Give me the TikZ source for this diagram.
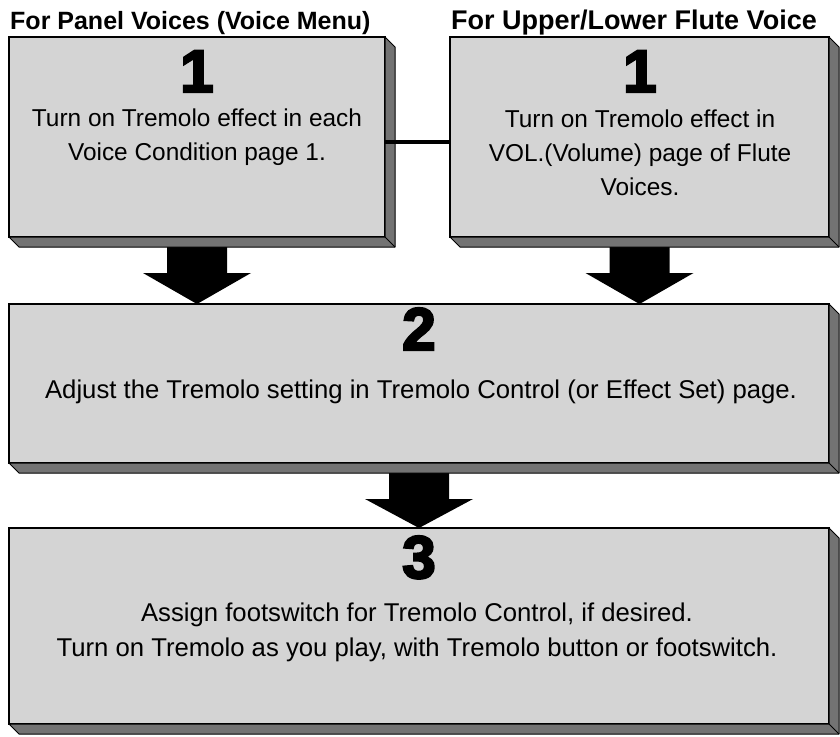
\documentclass[tikz,border=0pt]{standalone}
\usepackage{fontspec}
\setmainfont{Liberation Sans}
\newfontfamily\heavyfont[BoldFeatures={FakeBold=4}]{Liberation Sans}
\usetikzlibrary{calc}
\newcommand\bevel[1]{%
  \filldraw[band] (#1.north east) -- ++(10,10) -- ([shift={(10pt,-10pt)}]#1.south east)
    -- ([shift={(10pt,-10pt)}]#1.south west) -- (#1.south west) -- (#1.south east) -- cycle;
  \draw[band,fill=none] (#1.south east) -- ([shift={(10pt,-10pt)}]#1.south east);}
\newcommand\blockdown[2]{%
  \fill[blockarrow] ([xshift=-30pt]#1.south) -- ([xshift=-30pt,yshift=-36pt]#1.south)
    -- ([xshift=-54pt,yshift=-36pt]#1.south) -- (#1.south |- #2.north)
    -- ([xshift=54pt,yshift=-36pt]#1.south) -- ([xshift=30pt,yshift=-36pt]#1.south)
    -- ([xshift=30pt]#1.south) -- cycle;}
\begin{document}
\begin{tikzpicture}[x=1pt,y=-1pt,
  face/.style={draw=black, line width=1.5pt, fill=black!17, inner sep=0pt, outer sep=0pt},
  band/.style={draw=black, line width=1pt, fill=black!55, line join=round},
  bodytext/.style={font=\fontsize{25.7}{30}\selectfont, inner sep=0pt, anchor=base},
  smalltext/.style={font=\fontsize{24.4}{29}\selectfont, inner sep=0pt, anchor=base},
  titletext/.style={font=\fontsize{25}{30}\selectfont\bfseries, inner sep=0pt, anchor=base west},
  digit/.style={font=\fontsize{60}{64}\selectfont\heavyfont\bfseries, inner sep=0pt, anchor=base},
  blockarrow/.style={fill=black},
  link/.style={line width=4pt}]
\useasboundingbox (0,0) rectangle (840,736);
% faces
\node[face, minimum width=376pt, minimum height=200pt] (b1L) at (197,137) {};
\node[face, minimum width=379pt, minimum height=200pt] (b1R) at (639.5,137) {};
\node[face, minimum width=820pt, minimum height=159pt] (b2) at (419,383.5) {};
\node[face, minimum width=820pt, minimum height=196pt] (b3) at (419,626) {};
% arrows
\blockdown{b1L}{b2}
\blockdown{b1R}{b2}
\blockdown{b2}{b3}
% bevels
\bevel{b1L}
\bevel{b1R}
\bevel{b2}
\bevel{b3}
% link
\draw[link] ([yshift=-5pt]b1L.east) -- ([yshift=-5pt]b1R.west);
% titles
\node[titletext] (t1) at (10,29) {For Panel Voices (Voice Menu)};
\node[titletext, font=\fontsize{27}{30}\selectfont\bfseries] (t2) at (451,29) {For Upper/Lower Flute Voice};
% box 1L
\node[digit] (d1L) at (197,92) {1};
\node[smalltext] (l1a) at (197,126) {Turn on Tremolo effect in each};
\node[smalltext] (l1b) at (197,160) {Voice Condition page 1.};
% box 1R
\node[digit] (d1R) at (640,92) {1};
\node[smalltext] (r1a) at (640,127) {Turn on Tremolo effect in};
\node[smalltext] (r1b) at (640,161) {VOL.(Volume) page of Flute};
\node[smalltext] (r1c) at (640,195) {Voices.};
% box 2
\node[digit] (d2) at (419,350) {2};
\node[bodytext] (m2) at (421,398) {Adjust the Tremolo setting in Tremolo Control (or Effect Set) page.};
% box 3
\node[digit] (d3) at (419,578) {3};
\node[bodytext] (m3a) at (417,621) {Assign footswitch for Tremolo Control, if desired.};
\node[bodytext] (m3b) at (417,656) {Turn on Tremolo as you play, with Tremolo button or footswitch.};
\end{tikzpicture}
\end{document}
